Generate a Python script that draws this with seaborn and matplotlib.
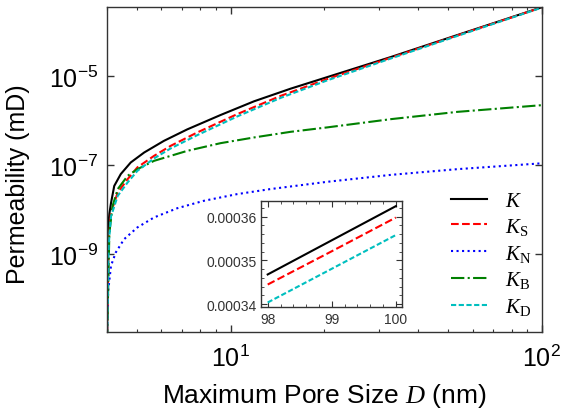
import numpy as np
import matplotlib
matplotlib.use("Agg")
import matplotlib.pyplot as plt
import matplotlib.ticker as mticker
import seaborn as sns

# curves (D in nm, permeability in mD)
d_k = [4.01, 4.03, 4.08, 4.13, 4.23, 4.44, 4.78, 5.28, 6.11, 7.26, 9.29, 11.9, 15.6, 20.4, 32.8, 53.6, 100]
k_tot = [1e-11, 3e-9, 8e-9, 1.4e-8, 3.4e-8, 6.3e-8, 1.15e-7, 1.93e-7, 3.53e-7, 6.4e-7,
         1.35e-6, 2.75e-6, 5.3e-6, 9.6e-6, 2.75e-5, 8.6e-5, 3.62e-4]

d_s = [4.01, 4.06, 4.13, 4.34, 4.67, 5.02, 5.68, 6.42, 7.82, 10.5, 14.5, 20.4, 32.8, 53.6, 100]
k_s = [1e-11, 2e-9, 8.6e-9, 2.42e-8, 4.83e-8, 8.9e-8, 1.62e-7, 2.72e-7, 5.46e-7,
       1.41e-6, 3.65e-6, 8.7e-6, 2.65e-5, 8.4e-5, 3.60e-4]
k_d = [1e-11, 1.6e-9, 7e-9, 2.03e-8, 4.07e-8, 7.43e-8, 1.42e-7, 2.38e-7, 4.75e-7,
       1.25e-6, 3.29e-6, 8.1e-6, 2.55e-5, 8.2e-5, 3.56e-4]

d_n = [4.01, 4.02, 4.05, 4.13, 4.28, 4.55, 5.02, 5.68, 6.75, 8.21, 10.5, 13.4, 20.4, 32.8, 53.6, 100]
k_n = [1.5e-11, 6e-11, 1.6e-10, 5.4e-10, 1.08e-9, 2.14e-9, 3.94e-9, 6.62e-9, 1.07e-8,
       1.57e-8, 2.22e-8, 2.88e-8, 4.2e-8, 6.04e-8, 8.12e-8, 1.1e-7]

d_b = [4.01, 4.08, 4.18, 4.34, 4.67, 5.02, 5.68, 7.26, 9.29, 11.9, 15.6, 20.4, 32.8, 53.6, 100]
k_b = [1e-11, 3.0e-9, 1.21e-8, 2.88e-8, 5.74e-8, 8.1e-8, 1.25e-7, 2.10e-7, 3.13e-7,
       4.21e-7, 5.64e-7, 7.08e-7, 1.09e-6, 1.59e-6, 2.25e-6]

# inset, close to D = 100 nm
d_in = [98, 99, 100]
k_tot_in = [3.468e-4, 3.546e-4, 3.624e-4]
k_s_in = [3.445e-4, 3.521e-4, 3.598e-4]
k_d_in = [3.404e-4, 3.481e-4, 3.558e-4]

plt.rcParams['font.family'] = ['Liberation Sans', 'DejaVu Sans']
plt.rcParams['mathtext.fontset'] = 'custom'
plt.rcParams['mathtext.rm'] = 'Liberation Serif'
plt.rcParams['mathtext.it'] = 'Liberation Serif:italic'
plt.rcParams['mathtext.sf'] = 'Liberation Sans'

fig = plt.figure(figsize=(5.63, 4.14), dpi=100)
ax = fig.add_axes([0.1895, 0.1949, 0.7726, 0.785])
ax.set_xscale('log')
ax.set_yscale('log')

lw = 1.5
sns.lineplot(x=d_k, y=k_tot, ax=ax, color='k', lw=lw, label='$K$', sort=False)
sns.lineplot(x=d_s, y=k_s, ax=ax, color='r', lw=lw, linestyle='--', label=r'$K_{\rm S}$', sort=False)
sns.lineplot(x=d_n, y=k_n, ax=ax, color='b', lw=lw, linestyle=':', label=r'$K_{\rm N}$', sort=False)
sns.lineplot(x=d_b, y=k_b, ax=ax, color='g', lw=lw, linestyle='-.', label=r'$K_{\rm B}$', sort=False)
sns.lineplot(x=d_s, y=k_d, ax=ax, color='c', lw=lw, linestyle=(0, (2.5, 1.2)), label=r'$K_{\rm D}$', sort=False)

ax.set_xlim(4, 100)
ax.set_ylim(1.7e-11, 3.62e-4)

sci = mticker.FuncFormatter(lambda v, p: r'$\mathsf{10^{%d}}$' % round(np.log10(v)))
ax.xaxis.set_major_formatter(sci)
ax.xaxis.set_minor_formatter(mticker.NullFormatter())
ax.set_yticks([1e-9, 1e-7, 1e-5])
ax.yaxis.set_major_formatter(sci)
ax.yaxis.set_minor_locator(mticker.NullLocator())
ax.tick_params(which='both', direction='in', top=True, right=True, labelsize=18, color='#333333')
ax.tick_params(which='major', length=5, width=1)
ax.tick_params(which='minor', length=2.5, width=0.8)
ax.tick_params(axis='x', pad=9)
ax.tick_params(axis='y', pad=6)
for s in ax.spines.values():
    s.set_color('#333333')
    s.set_linewidth(1.0)

ax.set_xlabel('Maximum Pore Size $D$ (nm)', fontsize=19, labelpad=7)
ax.set_ylabel('Permeability (mD)', fontsize=18)
ax.yaxis.set_label_coords(-0.176, 0.46)

ax.legend(loc='center left', bbox_to_anchor=(0.801, 0.384), bbox_transform=fig.transFigure,
          frameon=False, fontsize=15, handlelength=1.75, handletextpad=0.85,
          labelspacing=0.28, borderpad=0, borderaxespad=0)

# inset
axin = fig.add_axes([0.4641, 0.2553, 0.2504, 0.256])
sns.lineplot(x=d_in, y=k_tot_in, ax=axin, color='k', lw=lw, sort=False)
sns.lineplot(x=d_in, y=k_s_in, ax=axin, color='r', lw=lw, linestyle='--', sort=False)
sns.lineplot(x=d_in, y=k_d_in, ax=axin, color='c', lw=lw, linestyle=(0, (2.5, 1.2)), sort=False)
axin.set_xticks([98, 99, 100])
axin.set_yticks([0.00034, 0.00035, 0.00036])
axin.xaxis.set_major_formatter(mticker.FormatStrFormatter('%d'))
axin.yaxis.set_major_formatter(mticker.FormatStrFormatter('%.5f'))
axin.xaxis.set_minor_locator(mticker.AutoMinorLocator(5))
axin.yaxis.set_minor_locator(mticker.AutoMinorLocator(5))
axin.tick_params(which='both', direction='in', top=True, right=True, labelsize=10,
                 color='#333333', labelcolor='#333333')
axin.tick_params(which='major', length=4)
axin.tick_params(which='minor', length=2)
for s in axin.spines.values():
    s.set_color('#333333')
    s.set_linewidth(1.0)

fig.savefig('out.png', dpi=100)
